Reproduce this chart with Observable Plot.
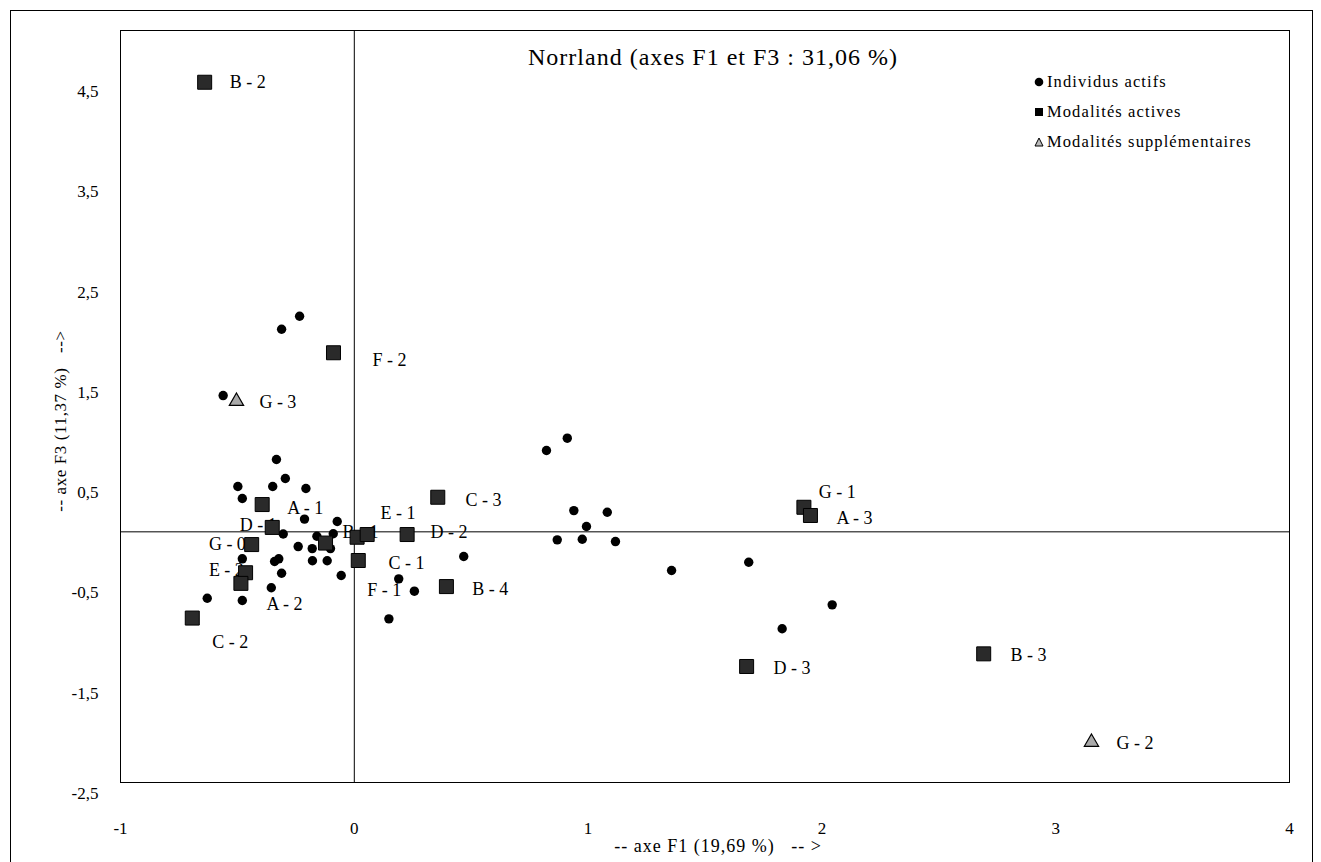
<!DOCTYPE html>
<html><head><meta charset="utf-8">
<script src="https://cdn.jsdelivr.net/npm/d3@7"></script>
<script src="https://cdn.jsdelivr.net/npm/@observablehq/plot@0.6"></script>
<style>
html,body{margin:0;padding:0;background:#fff;}
#wrap{position:relative;width:1321px;height:862px;overflow:hidden;font-family:"Liberation Serif",serif;color:#000;}
#chart{position:absolute;left:0;top:0;}
#outer{position:absolute;left:10px;top:10px;width:1303px;height:880px;border:1px solid #000;box-sizing:border-box;pointer-events:none;}
.t{position:absolute;white-space:pre;line-height:1;}
.leg{position:absolute;white-space:pre;font-size:16.5px;letter-spacing:1.1px;line-height:1;display:flex;align-items:center;}
.leg svg{margin-right:3px;}
</style></head><body>
<div id="wrap">
<div id="chart"></div>
<div id="outer"></div>
<div class="t" style="left:713px;top:57px;transform:translate(-50%,-50%);font-size:24px;letter-spacing:1px;">Norrland (axes F1 et F3 : 31,06 %)</div>
<div class="leg" style="left:1034px;top:74px;"><svg width="10" height="10"><circle cx="5" cy="5" r="4.3" fill="#000"/></svg>Individus actifs</div>
<div class="leg" style="left:1034px;top:104px;"><svg width="10" height="10"><rect x="1" y="1" width="8" height="8" fill="#000"/></svg>Modalités actives</div>
<div class="leg" style="left:1034px;top:134px;"><svg width="10" height="10"><polygon points="5,1 9,9 1,9" fill="#bbb" stroke="#000" stroke-width="1"/></svg>Modalités supplémentaires</div>
<div class="t" style="left:718px;top:846px;transform:translate(-50%,-50%);font-size:18px;letter-spacing:1px;">-- axe F1 (19,69 %)   -- &gt;</div>
<div class="t" style="left:60px;top:421px;transform:translate(-50%,-50%) rotate(-90deg);font-size:17px;letter-spacing:0.6px;">-- axe F3 (11,37 %)   --&gt;</div>
</div>
<script>
// Individus actifs (F1, F3)
const indivX = [-0.333,-0.295,-0.498,-0.349,-0.207,-0.479,-0.213,-0.073,-0.304,-0.160,-0.090,-0.240,-0.180,-0.102,-0.479,-0.323,-0.341,-0.179,-0.116,-0.311,-0.056,-0.355,-0.629,-0.479,0.190,0.148,-0.561,0.468,0.257,0.822,0.911,0.939,1.082,0.993,0.868,0.975,1.117,1.357,1.687,2.044,1.830,-0.311,-0.234];
const indivY = [0.721,0.532,0.452,0.452,0.432,0.332,0.127,0.103,-0.022,-0.044,-0.019,-0.147,-0.167,-0.167,-0.269,-0.269,-0.296,-0.288,-0.288,-0.413,-0.436,-0.558,-0.662,-0.685,-0.469,-0.868,1.359,-0.246,-0.592,0.811,0.934,0.212,0.195,0.053,-0.080,-0.074,-0.097,-0.386,-0.303,-0.728,-0.967,2.020,2.150];

// Modalités actives
const modNames = ["B - 2","F - 2","A - 1","D - 1","G - 0","E - 2","A - 2","C - 2","B - 1","E - 1","F - 1","D - 2","C - 3","C - 1","B - 4","G - 1","A - 3","D - 3","B - 3"];
const modX = [-0.640,-0.089,-0.394,-0.351,-0.439,-0.465,-0.485,-0.693,-0.123,0.012,0.055,0.226,0.357,0.017,0.394,1.923,1.951,1.678,2.692];
const modY = [4.484,1.786,0.272,0.044,-0.127,-0.408,-0.514,-0.860,-0.112,-0.054,-0.027,-0.027,0.345,-0.286,-0.546,0.245,0.163,-1.343,-1.217];

// Modalités supplémentaires
const suppNames = ["G - 3","G - 2"];
const suppX = [-0.504,3.153];
const suppY = [1.302,-2.098];

// Étiquettes des modalités (point d'ancrage)
const labelText = ["B - 2","F - 2","G - 3","A - 1","D - 1","G - 0","E - 2","A - 2","C - 2","B - 1","E - 1","D - 2","C - 3","C - 1","F - 1","B - 4","G - 1","A - 3","D - 3","B - 3","G - 2"];
const labelX = [-0.533,0.078,-0.406,-0.287,-0.490,-0.622,-0.622,-0.376,-0.608,-0.050,0.112,0.326,0.476,0.146,0.055,0.504,1.987,2.062,1.793,2.807,3.260];
const labelY = [4.481,1.708,1.293,0.232,0.070,-0.120,-0.386,-0.725,-1.104,-0.007,0.183,-0.007,0.312,-0.313,-0.580,-0.575,0.392,0.133,-1.363,-1.234,-2.111];

// Graduations
const xTicks = [-1,0,1,2,3,4];
const yTicks = [4.5,3.5,2.5,1.5,0.5,-0.5,-1.5,-2.5];

const indiv = indivX.map((x,i)=>({x, y: indivY[i]}));
const mods = modNames.map((n,i)=>({name:n, x: modX[i], y: modY[i]}));
const supp = suppNames.map((n,i)=>({name:n, x: suppX[i], y: suppY[i]}));
const labels = labelText.map((t,i)=>({t, x: labelX[i], y: labelY[i]}));

const chart = Plot.plot({
  width: 1321, height: 862,
  marginLeft: 120, marginRight: 32, marginTop: 30, marginBottom: 80,
  style: {fontFamily: "'Liberation Serif', serif", fontSize: "16px", background: "transparent", color: "#000", overflow: "visible"},
  x: {domain: [-1, 4]},
  y: {domain: [-2.5, 5]},
  marks: [
    Plot.frame({stroke: "#000", strokeWidth: 1}),
    Plot.ruleX([0], {stroke: "#000", strokeWidth: 1}),
    Plot.ruleY([0], {stroke: "#000", strokeWidth: 1}),
    Plot.axisX({ticks: xTicks, tickSize: 0, tickPadding: 39, tickFormat: d => String(d), label: null, fontSize: 17}),
    Plot.axisY({ticks: yTicks, tickSize: 0, tickPadding: 22, dy: 11, tickFormat: d => d.toFixed(1).replace(".", ","), label: null, fontSize: 17}),
    Plot.text(labels, {x: "x", y: "y", text: "t", textAnchor: "start", fontSize: 18, fill: "#000"}),
    Plot.dot(indiv, {x: "x", y: "y", r: 4.7, fill: "#000", stroke: null}),
    Plot.dot(mods, {x: "x", y: "y", symbol: "square", r: 7.9, fill: "#2a2a2a", stroke: "#000", strokeWidth: 1}),
    Plot.dot(supp, {x: "x", y: "y", symbol: "triangle", r: 5.3, fill: "#aaa", stroke: "#000", strokeWidth: 1.2})
  ]
});
document.getElementById("chart").appendChild(chart);
</script>
</body></html>
